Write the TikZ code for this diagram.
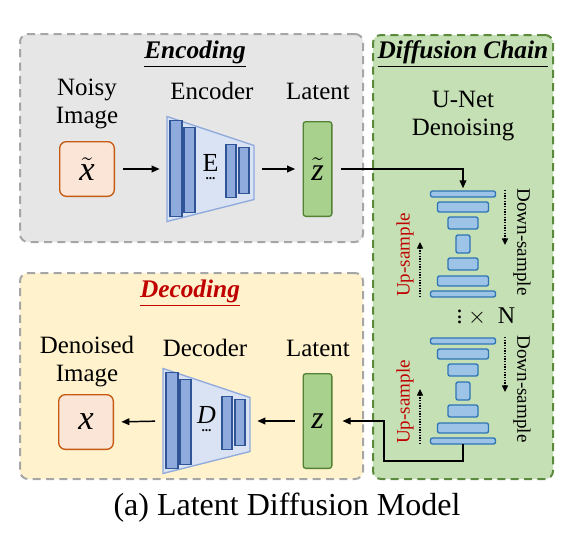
\documentclass[tikz,border=0pt]{standalone}
\usepackage{fontspec}
\setmainfont{Liberation Serif}
\usetikzlibrary{arrows.meta,positioning,fit}
\definecolor{encgray}{HTML}{E6E6E6}
\definecolor{panelgray}{HTML}{A6A6A6}
\definecolor{decyellow}{HTML}{FFF2CC}
\definecolor{chaingreen}{HTML}{C5E0B4}
\definecolor{chainline}{HTML}{5B8A3C}
\definecolor{imgfill}{HTML}{FBE5D6}
\definecolor{imgline}{HTML}{C55A11}
\definecolor{latfill}{HTML}{A9D18E}
\definecolor{latline}{HTML}{548235}
\definecolor{trapfill}{HTML}{DAE3F3}
\definecolor{trapline}{HTML}{8FAADC}
\definecolor{barline}{HTML}{2F5597}
\definecolor{unetfill}{HTML}{9DC3E6}
\definecolor{unetline}{HTML}{2E75B6}
\definecolor{upred}{HTML}{C00000}

\begin{document}
\begin{tikzpicture}[x=0.75pt,y=-0.75pt,
	panel/.style={rounded corners=6pt,line width=1.5pt,dash pattern=on 6pt off 4pt,inner sep=0pt},
	lbl/.style={align=center,font=\fontsize{18.7}{21}\selectfont},
	ttl/.style={font=\fontsize{19}{22}\selectfont\bfseries\itshape},
	side/.style={font=\fontsize{14.3}{16}\selectfont,inner sep=0pt},
	imgbox/.style={draw=imgline,fill=imgfill,line width=1pt,rounded corners=5pt,
		minimum width=41pt,minimum height=41pt,inner sep=0pt,font=\fontsize{26}{28}\selectfont},
	latbox/.style={draw=latline,fill=latfill,line width=1pt,rounded corners=2pt,
		minimum width=21.5pt,minimum height=71pt,inner sep=0pt,font=\fontsize{24}{26}\selectfont},
	bar/.style={draw=barline,fill=trapline,line width=0.9pt},
	block/.style={draw=unetline,fill=unetfill,line width=1pt,rounded corners=1.5pt},
	arr/.style={-{Triangle[length=6pt,width=5pt]},line width=1.1pt,shorten <=6pt,shorten >=5.5pt},
	dotarr/.style={-{Triangle[length=5pt,width=4.5pt]},line width=1pt,dash pattern=on 1pt off 1pt},
	coder/.pic={
		\draw[fill=trapfill,draw=trapline,line width=1pt] (-43.5,-52.5) -- (43.5,-23.5) -- (43.5,30.5) -- (-43.5,52.5) -- cycle;
		\foreach \xa/\xb/\ya/\yb in {-40.5/-28.5/-48.5/47.5, -26.5/-15.5/-41.5/43.5, 15.5/25.5/-24.5/28.5, 28.5/38.5/-21.5/24.5}
			\draw[bar] (\xa,\ya) rectangle (\xb,\yb);
		\node[font=\fontsize{19.5}{22}\selectfont] at (0,-6) {#1};
		\node[font=\bfseries] at (0,10) {...};
		\coordinate (-l) at (-43.5,0);
		\coordinate (-r) at (43.5,0);
	},
	unet/.pic={
		\foreach \w/\ya/\yb in {65/-53/-47, 51/-42/-32, 30/-27/-15, 14/-9/9, 30/14/26, 51/32/42, 65/47/53}
			\draw[block] (-\w/2,\ya) rectangle (\w/2,\yb);
		\draw[dotarr] (42,-54) -- (42,1);
		\draw[dotarr] (-43,53) -- (-43,-2);
		\node[side,rotate=-90] at (59,-2) {Down-sample};
		\node[side,rotate=90,text=upred] at (-58,11) {Up-sample};
		\coordinate (-top) at (0,-53);
		\coordinate (-bot) at (0,53);
	}]
	\useasboundingbox (0,0) rectangle (575,533);

	% panels
	\node[panel,draw=panelgray,fill=encgray,fit={(20,34)(363,242)}] (encpanel) {};
	\node[panel,draw=panelgray,fill=decyellow,fit={(20,273)(363,479)}] (decpanel) {};
	\node[panel,draw=chainline,fill=chaingreen,fit={(373,35)(553,479)}] (chainpanel) {};

	\node[ttl] (enctitle) at (195,54) {\underline{Encoding}};
	\node[ttl,text=upred] (dectitle) at (190,293) {\underline{Decoding}};
	\node[ttl] (chaintitle) at (463,54) {\underline{Diffusion Chain}};

	% encoding
	\node[lbl] (noisylbl) at (87,104) {Noisy\\Image};
	\node[lbl] (enclbl) at (212,91) {Encoder};
	\node[lbl] (latlbl1) at (318,91) {Latent};
	\node[imgbox] (xt) at (87,169) {$\tilde{\textit{x}}$};
	\pic (enc) at (210.5,169) {coder={E}};
	\node[latbox] (zt) at (317.5,169) {$\tilde{\textit{z}}$};
	\draw[arr] (xt.east) -- (enc-l);
	\draw[arr] (enc-r) -- (zt.west);

	% diffusion chain
	\node[lbl] (unetlbl) at (463,116) {U-Net\\Denoising};
	\pic (u1) at (463,244) {unet};
	\node[font=\fontsize{18}{20}\selectfont] (rep) at (486,314) {\vdots\hspace{4pt}$\times$\hspace{9pt}N};
	\pic (u2) at (463,391) {unet};
	\draw[arr,shorten >=2pt] (zt.east) -| (u1-top);

	% decoding
	\node[lbl] (denlbl) at (87,362) {Denoised\\Image};
	\node[lbl] (declbl) at (205,348) {Decoder};
	\node[lbl] (latlbl2) at (318,348) {Latent};
	\node[latbox] (z) at (317.5,421) {\textit{z}};
	\pic (dec) at (206.5,421) {coder={\textit{D}}};
	\node[imgbox] (x) at (86,422) {\textit{x}};
	\coordinate (bend) at (384,461);
	\draw[arr,shorten <=0pt,shorten >=7.5pt] (u2-bot) |- (bend) |- (z.east);
	\draw[arr] (z.west) -- (dec-r);
	\draw[arr] (dec-l) -- (x.east);

	\node[font=\fontsize{24}{28}\selectfont] (caption) at (287,508) {(a) Latent Diffusion Model};
\end{tikzpicture}
\end{document}
